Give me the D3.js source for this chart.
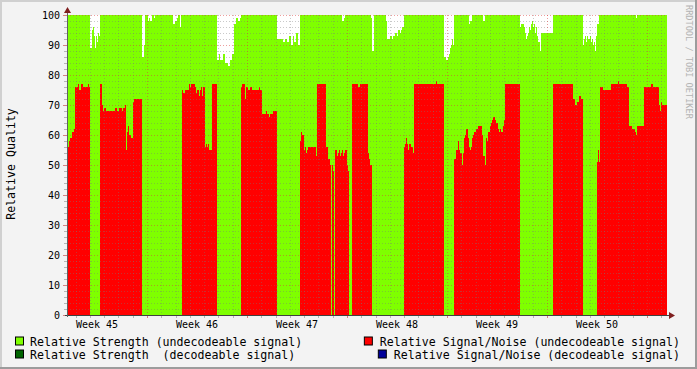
<!DOCTYPE html>
<html><head><meta charset="utf-8">
<script src="https://cdn.jsdelivr.net/npm/d3@7"></script>
<style>html,body{margin:0;padding:0;background:#f3f3f3;}svg{display:block;}</style>
</head><body><svg id="c" width="697" height="369"></svg>
<script>
// time in days since start of graph (42 days shown), values in %
const strT = [0.00,1.61,1.75,1.82,1.89,1.96,2.03,2.10,2.17,2.24,2.31,5.25,5.39,5.46,5.67,5.74,5.81,5.95,6.09,6.16,7.42,7.56,7.70,7.77,7.91,7.98,
10.50,10.64,10.71,10.92,11.06,11.27,11.41,11.55,11.69,11.83,11.97,12.11,12.18,14.70,15.12,15.26,15.40,15.54,15.68,15.82,15.89,16.03,16.17,16.31,
19.25,19.39,19.46,21.28,21.35,21.49,22.33,22.40,22.61,22.75,22.82,22.96,23.10,23.17,23.31,23.38,23.45,23.59,26.39,26.53,26.67,26.74,26.81,26.88,26.95,27.02,27.09,
28.14,28.21,28.35,29.12,29.26,31.71,31.78,31.99,32.06,32.13,32.20,32.27,32.34,32.41,32.48,32.55,32.62,32.69,32.76,32.83,32.90,32.97,33.11,33.18,34.02,
36.12,36.19,36.26,36.33,36.40,36.47,36.61,36.68,36.75,36.82,36.89,36.96,37.03,37.10,37.24,39.83,39.90];
const strV = [100,89,95,96,93,89,93,91,94,93,100,86,90,100,98,99,98,100,99,100,97,98,99,100,96,100,
85,87,85,87,84,83,85,87,97,99,98,99,100,92,91,92,91,93,90,93,91,94,90,100,
98,99,100,99,88,100,98,92,93,92,93,94,93,95,94,95,96,100,86,85,86,87,89,90,92,90,100,
97,98,100,98,100,96,97,96,94,92,93,94,96,95,97,98,96,97,94,96,93,91,88,94,100,
90,92,93,91,93,92,93,91,92,90,91,88,93,97,100,99,100];

const snrT = [0.00,0.14,0.21,0.35,0.49,0.56,0.77,0.84,0.98,1.12,1.47,1.54,1.61,2.31,2.45,2.52,2.59,2.73,3.36,3.50,3.64,3.85,3.92,4.06,4.13,4.20,4.27,4.34,4.48,4.62,4.69,5.25,
8.05,8.12,8.26,8.54,8.61,8.68,8.96,9.03,9.10,9.24,9.31,9.38,9.45,9.52,9.66,9.73,9.80,9.87,9.94,10.15,10.50,
12.18,12.25,12.46,12.53,12.67,12.81,12.95,13.44,13.51,13.65,13.93,14.00,14.14,14.21,14.42,14.70,
16.31,16.38,16.45,16.59,16.66,16.73,16.80,16.87,17.43,17.50,18.13,18.27,18.41,18.48,18.55,18.62,18.69,18.76,18.90,18.97,19.04,19.11,19.18,19.25,19.32,19.39,19.46,19.60,19.67,19.74,
19.95,20.37,20.51,21.07,21.14,21.21,21.35,23.59,23.66,23.73,23.80,23.87,23.94,24.08,24.22,24.29,25.83,25.90,26.39,
27.09,27.23,27.37,27.44,27.51,27.65,27.72,27.79,27.86,27.93,28.07,28.14,28.21,28.28,28.35,28.42,28.49,28.63,28.77,29.05,29.12,29.26,29.33,29.40,29.47,29.61,29.68,29.75,29.82,29.96,30.03,30.17,30.24,30.31,30.38,30.52,30.59,30.66,31.71,
34.02,35.42,35.56,35.70,35.84,35.98,36.12,37.10,37.17,37.24,37.31,37.52,38.08,38.57,38.64,39.20,39.34,39.55,39.76,39.83,39.90,40.39,40.88,41.02,41.44,41.51,41.58,41.65];
const snrV = [56,58,59,61,62,76,77,75,77,76,77,76,0,77,70,68,69,68,69,68,69,68,69,70,55,61,63,60,59,71,72,0,
75,74,75,77,76,77,76,74,75,73,75,76,73,76,56,57,56,57,55,77,0,
76,77,72,76,75,76,75,76,75,67,68,67,66,67,68,0,
58,61,60,55,56,54,55,56,53,77,56,52,50,0,50,48,0,55,53,54,55,53,54,55,53,54,55,50,48,0,
77,76,77,54,52,50,0,56,57,59,57,55,57,56,54,77,78,77,0,
52,55,58,55,54,50,54,59,60,62,59,56,55,56,59,60,61,62,63,60,53,50,59,58,61,63,64,65,66,65,64,62,61,62,61,63,65,77,0,
77,72,70,71,73,72,0,51,55,51,76,75,77,78,77,76,63,62,61,60,63,76,77,76,70,68,71,70];

const decStrV = [];   // Relative Strength (decodeable) - no data in range
const decSnrV = [];   // Relative Signal/Noise (decodeable) - no data in range

const totalDays = 42;
const weekLabels = ["Week 45","Week 46","Week 47","Week 48","Week 49","Week 50"];
const weekLabelDays = [2.1, 9.1, 16.1, 23.1, 30.1, 37.1];
const weekStartDays = [5.6, 12.6, 19.6, 26.6, 33.6, 40.6];
const yTicks = [0,10,20,30,40,50,60,70,80,90,100];

const legendItems = [
  {label:"Relative Strength (undecodeable signal)", color:"#7fff00", col:0, row:0},
  {label:"Relative Signal/Noise (undecodeable signal)", color:"#ff0000", col:1, row:0},
  {label:"Relative Strength  (decodeable signal)", color:"#006400", col:0, row:1},
  {label:"Relative Signal/Noise (decodeable signal)", color:"#000099", col:1, row:1}
];

const svg = d3.select("#c");
const FONT = "'DejaVu Sans Mono', monospace";
const L = 67, R = 667, T = 15, B = 315;
const x = d3.scaleLinear().domain([0, totalDays]).range([L, R]);
const y = d3.scaleLinear().domain([0, 100]).range([B, T]);

// background + frame
svg.append("rect").attr("width",697).attr("height",369).attr("fill","#f3f3f3");
svg.append("rect").attr("x",0).attr("y",0).attr("width",697).attr("height",2).attr("fill","#d0d0d0");
svg.append("rect").attr("x",0).attr("y",0).attr("width",2).attr("height",369).attr("fill","#d0d0d0");
svg.append("rect").attr("x",695).attr("y",0).attr("width",2).attr("height",369).attr("fill","#9c9c9c");
svg.append("rect").attr("x",0).attr("y",367).attr("width",697).attr("height",2).attr("fill","#9c9c9c");

svg.append("rect").attr("x",L).attr("y",T).attr("width",R-L).attr("height",B-T).attr("fill","#ffffff");

function series(ts, vs){
  const pts = ts.map((t,i)=>[t, vs[i]]);
  pts.push([totalDays, vs[vs.length-1]]);
  return pts;
}
const area = d3.area().curve(d3.curveStepAfter)
  .x(d=>x(d[0])).y0(y(0)).y1(d=>y(d[1]));

svg.append("path").datum(series(strT,strV)).attr("d",area).attr("fill","#7fff00");
svg.append("path").datum(series(snrT,snrV)).attr("d",area).attr("fill","#ff0000");

// grid
const g = svg.append("g").attr("shape-rendering","crispEdges");
const minorY = d3.range(2,100,2).filter(v=>v%10!==0);
g.selectAll(".hmin").data(minorY).join("line")
  .attr("x1",L).attr("x2",R).attr("y1",d=>Math.round(y(d))+0.5).attr("y2",d=>Math.round(y(d))+0.5)
  .attr("stroke","rgba(120,120,120,0.4)").attr("stroke-dasharray","1,2");
const minorX = d3.range(0.6, totalDays, 1).filter(d=>!weekStartDays.some(w=>Math.abs(w-d)<0.01));
g.selectAll(".vmin").data(minorX).join("line")
  .attr("y1",T).attr("y2",B).attr("x1",d=>Math.round(x(d))+0.5).attr("x2",d=>Math.round(x(d))+0.5)
  .attr("stroke","rgba(120,120,120,0.4)").attr("stroke-dasharray","1,2");
g.selectAll(".hmaj").data(yTicks.filter(v=>v>0)).join("line")
  .attr("x1",L).attr("x2",R).attr("y1",d=>Math.round(y(d))+0.5).attr("y2",d=>Math.round(y(d))+0.5)
  .attr("stroke","rgba(220,60,60,0.5)").attr("stroke-dasharray","1,2");
g.selectAll(".vmaj").data(weekStartDays).join("line")
  .attr("y1",T).attr("y2",B).attr("x1",d=>Math.round(x(d))+0.5).attr("x2",d=>Math.round(x(d))+0.5)
  .attr("stroke","rgba(220,60,60,0.5)").attr("stroke-dasharray","1,2");

// axis ticks
g.selectAll(".yt").data(d3.range(0,101,2)).join("line")
  .attr("x1",d=>d%10===0?63:64).attr("x2",L).attr("y1",d=>Math.round(y(d))+0.5).attr("y2",d=>Math.round(y(d))+0.5)
  .attr("stroke",d=>d%10===0?"rgba(200,80,80,0.7)":"rgba(120,120,120,0.5)");
g.selectAll(".xt").data(minorX.concat(weekStartDays)).join("line")
  .attr("y1",B).attr("y2",B+3).attr("x1",d=>Math.round(x(d))+0.5).attr("x2",d=>Math.round(x(d))+0.5)
  .attr("stroke",d=>weekStartDays.includes(d)?"rgba(200,80,80,0.7)":"rgba(120,120,120,0.5)");

// axes
g.append("line").attr("x1",L-2).attr("x2",R+4).attr("y1",B+0.5).attr("y2",B+0.5).attr("stroke","#404040");
g.append("line").attr("x1",L+0.5).attr("x2",L+0.5).attr("y1",B+2).attr("y2",T-3).attr("stroke","#606060");
svg.append("path").attr("d",`M${R+2},${B-3} L${R+8},${B+0.5} L${R+2},${B+4} Z`).attr("fill","#7f1f1f");
svg.append("path").attr("d",`M${L-3},${T-2} L${L+0.5},${T-8} L${L+4},${T-2} Z`).attr("fill","#7f1f1f");

// y labels
svg.selectAll(".yl").data(yTicks).join("text")
  .attr("x",60).attr("y",d=>y(d)+4).attr("text-anchor","end")
  .attr("font-family",FONT).attr("font-size","10px").attr("fill","#000").text(d=>d);
// week labels
svg.selectAll(".wl").data(weekLabels).join("text")
  .attr("x",(d,i)=>x(weekLabelDays[i])).attr("y",328).attr("text-anchor","middle")
  .attr("font-family",FONT).attr("font-size","10px").attr("fill","#000").text(d=>d);

// y title
svg.append("text").attr("transform","translate(15,164) rotate(-90)").attr("text-anchor","middle")
  .attr("font-family",FONT).attr("font-size","11.6px").attr("fill","#000").text("Relative Quality");
// watermark
svg.append("text").attr("transform","translate(686,5) rotate(90)").attr("text-anchor","start")
  .attr("font-family",FONT).attr("font-size","8.6px").attr("fill","#b4b4b4").text("RRDTOOL / TOBI OETIKER");

// legend
const lg = svg.selectAll(".lg").data(legendItems).join("g");
lg.each(function(d){
  const sel = d3.select(this);
  const by = d.row===0 ? 345.5 : 358.5;
  if (d.col===0){
    sel.append("rect").attr("x",15.5).attr("y",by-8.5).attr("width",8).attr("height",8)
      .attr("fill",d.color).attr("stroke","#000").attr("stroke-width",1);
    sel.append("text").attr("x",30).attr("y",by).attr("font-family",FONT).attr("font-size","11.6px")
      .attr("fill","#000").attr("xml:space","preserve").style("white-space","pre").text(d.label);
  } else {
    const t = sel.append("text").attr("x",680).attr("y",by).attr("text-anchor","end").attr("font-family",FONT)
      .attr("font-size","11.6px").attr("fill","#000").text(d.label);
    const w = t.node().getComputedTextLength();
    sel.append("rect").attr("x",680-w-15.5).attr("y",by-8.5).attr("width",8).attr("height",8)
      .attr("fill",d.color).attr("stroke","#000").attr("stroke-width",1);
  }
});
</script></body></html>
